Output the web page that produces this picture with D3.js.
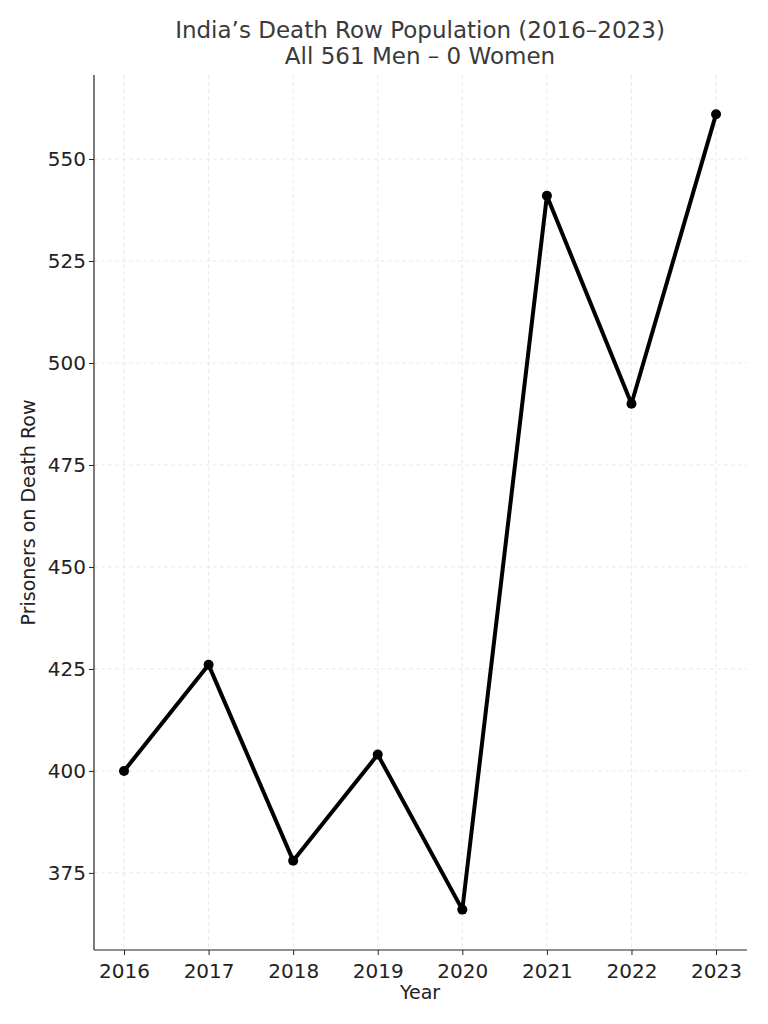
<!DOCTYPE html>
<html><head><meta charset="utf-8">
<script src="https://cdn.jsdelivr.net/npm/d3@7"></script>
<style>body{margin:0;background:#fff}text{font-family:"DejaVu Sans",sans-serif}</style>
</head><body><svg id="c" width="768" height="1024"></svg>
<script>
const years=[2016,2017,2018,2019,2020,2021,2022,2023];
const prisoners=[400,426,378,404,366,541,490,561];
const yTicks=[375,400,425,450,475,500,525,550];
const titleLines=["India’s Death Row Population (2016–2023)","All 561 Men – 0 Women"];
const svg=d3.select("#c");
const L=94,R=747,T=75,B=950;
const x=d3.scaleLinear().domain([2015.645,2023.366]).range([L,R]);
const y=d3.scaleLinear().domain([356.1,570.6]).range([B,T]);
const g=svg.append("g");
g.selectAll(".gx").data(years).join("line").attr("x1",d=>x(d)).attr("x2",d=>x(d)).attr("y1",T).attr("y2",B)
 .attr("stroke","#e3e3e3").attr("stroke-dasharray","4,3").attr("stroke-width",0.8);
g.selectAll(".gy").data(yTicks).join("line").attr("y1",d=>y(d)).attr("y2",d=>y(d)).attr("x1",L).attr("x2",R)
 .attr("stroke","#e3e3e3").attr("stroke-dasharray","4,3").attr("stroke-width",0.8);
const xa=svg.append("g").attr("transform",`translate(0,${B})`).call(d3.axisBottom(x).tickValues(years).tickFormat(d3.format("d")).tickSizeOuter(0).tickSize(5));
const ya=svg.append("g").attr("transform",`translate(${L},0)`).call(d3.axisLeft(y).tickValues(yTicks).tickSizeOuter(0).tickSize(5));
[xa,ya].forEach(a=>{a.select(".domain").remove();a.selectAll("text").attr("font-size",20).attr("fill","#222").attr("font-family","DejaVu Sans");a.selectAll(".tick line").attr("stroke","#222")});
xa.selectAll("text").attr("dy","1.0em");
svg.append("line").attr("x1",L).attr("x2",R).attr("y1",B).attr("y2",B).attr("stroke","#222").attr("stroke-width",1.2);
svg.append("line").attr("x1",L).attr("x2",L).attr("y1",T).attr("y2",B).attr("stroke","#222").attr("stroke-width",1.2);
svg.append("path").datum(years.map((d,i)=>[d,prisoners[i]])).attr("fill","none").attr("stroke","#000").attr("stroke-width",4)
 .attr("stroke-linejoin","round").attr("d",d3.line().x(d=>x(d[0])).y(d=>y(d[1])));
svg.selectAll("circle").data(years).join("circle").attr("cx",d=>x(d)).attr("cy",(d,i)=>y(prisoners[i])).attr("r",5).attr("fill","#000");
svg.selectAll(".t").data(titleLines).join("text").attr("x",420).attr("y",(d,i)=>38+i*26).attr("text-anchor","middle").attr("font-size",23).attr("fill","#3a3a3a").text(d=>d);
svg.append("text").attr("x",420).attr("y",999).attr("text-anchor","middle").attr("font-size",19).attr("fill","#222").text("Year");
svg.append("text").attr("transform",`translate(35,${(T+B)/2}) rotate(-90)`).attr("text-anchor","middle").attr("font-size",19).attr("fill","#222").text("Prisoners on Death Row");
</script></body></html>
